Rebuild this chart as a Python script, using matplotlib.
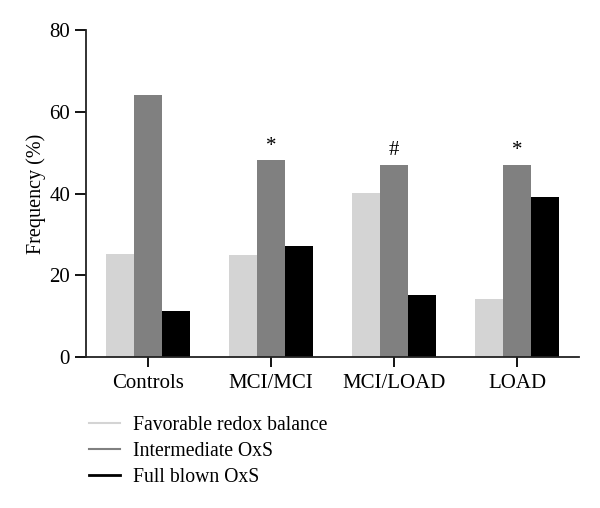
import numpy as np
import matplotlib
matplotlib.use("Agg")
import matplotlib.pyplot as plt
from matplotlib.lines import Line2D

groups = ["Controls", "MCI/MCI", "MCI/LOAD", "LOAD"]
favorable = [25.2, 25.0, 40.1, 14.1]
intermediate = [64.0, 48.1, 47.1, 47.1]
full_blown = [11.2, 27.2, 15.1, 39.1]
marks = ["", "*", "#", "*"]
series_names = ["Favorable redox balance", "Intermediate OxS", "Full blown OxS"]
colors = ["#d4d4d4", "#808080", "#000000"]

plt.rcParams["font.family"] = ["Liberation Serif", "DejaVu Serif"]

fig = plt.figure(figsize=(6, 5.08), dpi=100)
ax = fig.add_axes([0.1433, 0.297, 0.8217, 0.644])

x = np.arange(len(groups))
w = 0.23
for k, vals in enumerate([favorable, intermediate, full_blown]):
    ax.bar(x + (k - 1) * w, vals, width=w, color=colors[k], edgecolor="none")

for i, m in enumerate(marks):
    if m:
        ax.text(x[i], intermediate[i] + 1.0, m, ha="center", va="bottom", fontsize=15)

ax.set_xlim(-0.504, 3.504)
ax.set_ylim(0, 80)
ax.set_yticks([0, 20, 40, 60, 80])
ax.set_xticks(x)
ax.set_xticklabels(groups, fontsize=15)
ax.tick_params(axis="y", labelsize=15, length=8, width=1.3, direction="out")
ax.tick_params(axis="x", length=7, width=1.3, direction="out", pad=5)
ax.set_ylabel("Frequency (%)", fontsize=14.5, labelpad=2)
for s in ["top", "right"]:
    ax.spines[s].set_visible(False)
for s in ["left", "bottom"]:
    ax.spines[s].set_linewidth(1.3)
    ax.spines[s].set_color("#222222")

handles = [Line2D([], [], color=c, lw=1.5 if c != "#000000" else 2) for c in colors]
fig.legend(handles, series_names, loc="upper left", bbox_to_anchor=(0.135, 0.197),
           frameon=False, fontsize=14.2, handlelength=1.57, handletextpad=0.66,
           labelspacing=0.36, borderaxespad=0)

fig.savefig("out.png", dpi=100)
